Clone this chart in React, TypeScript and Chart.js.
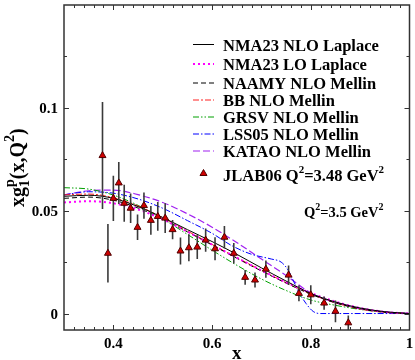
import React, { useEffect, useRef } from 'react';
import { Chart, registerables } from 'chart.js';

Chart.register(...registerables);

const FONT = "'Liberation Serif', 'Times New Roman', serif";

// ---- data ----
const X_GRID = [0.30, 0.35, 0.40, 0.45, 0.50, 0.55, 0.60, 0.65, 0.70, 0.75, 0.80, 0.85, 0.90, 0.95, 1.00];
const NMA23_NLO = [0.0570, 0.0575, 0.0560, 0.0520, 0.0467, 0.0408, 0.0350, 0.0288, 0.0222, 0.0158, 0.0098, 0.0056, 0.0027, 0.0009, 0];
const NMA23_LO = [0.0540, 0.0546, 0.0536, 0.0506, 0.0458, 0.0398, 0.0335, 0.0272, 0.0210, 0.0152, 0.0100, 0.0058, 0.0027, 0.0008, 0];
const NAAMY = [0.0560, 0.0566, 0.0551, 0.0513, 0.0459, 0.0397, 0.0333, 0.0269, 0.0207, 0.0148, 0.0094, 0.0052, 0.0023, 0.0006, 0];
const BB = [0.0577, 0.0581, 0.0563, 0.0523, 0.0466, 0.0401, 0.0336, 0.0272, 0.0210, 0.0150, 0.0095, 0.0052, 0.0022, 0.0006, 0];
const GRSV = [0.0612, 0.0605, 0.0576, 0.0526, 0.0460, 0.0385, 0.0308, 0.0235, 0.0168, 0.0112, 0.0066, 0.0040, 0.0020, 0.0006, 0];
const KATAO = [0.0577, 0.0597, 0.0600, 0.0578, 0.0540, 0.0485, 0.0420, 0.0345, 0.0265, 0.0185, 0.0100, 0.0053, 0.0024, 0.0008, 0];
const LSS05_X = [0.30, 0.35, 0.40, 0.45, 0.50, 0.55, 0.60, 0.64, 0.68, 0.72, 0.74, 0.755, 0.765, 0.775, 0.79, 0.805, 0.82, 0.90, 1.00];
const LSS05 = [0.0577, 0.0592, 0.0585, 0.0557, 0.0512, 0.0452, 0.0390, 0.0330, 0.0288, 0.0265, 0.0250, 0.0208, 0.0158, 0.0108, 0.0050, 0.0010, 0, 0, 0];

const JLAB_X = [0.378, 0.389, 0.400, 0.411, 0.422, 0.435, 0.449, 0.462, 0.476, 0.490, 0.505, 0.520, 0.536, 0.553, 0.570, 0.587, 0.606, 0.625, 0.644, 0.667, 0.687, 0.709, 0.755, 0.776, 0.800, 0.827, 0.850, 0.876];
const JLAB_Y = [0.0768, 0.0293, 0.0560, 0.0635, 0.0536, 0.0512, 0.0419, 0.0525, 0.0453, 0.0472, 0.0464, 0.0408, 0.0304, 0.0320, 0.0323, 0.0357, 0.0315, 0.0371, 0.0293, 0.0176, 0.0163, 0.0216, 0.0187, 0.0098, 0.0091, 0.0051, 0.0011, -0.0045];
const JLAB_ERR = [0.0260, 0.0142, 0.0110, 0.0102, 0.0090, 0.0072, 0.0062, 0.0064, 0.0070, 0.0070, 0.0072, 0.0047, 0.0066, 0.0066, 0.0058, 0.0056, 0.0056, 0.0055, 0.0050, 0.0036, 0.0036, 0.0042, 0.0046, 0.0038, 0.0046, 0.0032, 0.0053, 0.0036];

const SERIES_LABELS = ['NMA23 NLO Laplace', 'NMA23 LO Laplace', 'NAAMY NLO Mellin', 'BB NLO Mellin', 'GRSV NLO Mellin', 'LSS05 NLO Mellin', 'KATAO NLO Mellin'];
const X_TICKS = [0.4, 0.6, 0.8, 1.0];
const X_TICK_LABELS = ['0.4', '0.6', '0.8', '1'];
const Y_TICKS = [0, 0.05, 0.1];
const Y_TICK_LABELS = ['0', '0.05', '0.1'];

// ---- styles ----
const STYLES = [
  { color: '#000000', dash: [], width: 1 },
  { color: '#ff00ff', dash: [2, 3], width: 2 },
  { color: '#000000', dash: [5, 3], width: 1 },
  { color: '#ff2020', dash: [6, 2, 2, 2], width: 1 },
  { color: '#00a000', dash: [6, 2, 1.5, 2, 1.5, 2], width: 1 },
  { color: '#0000ff', dash: [6, 2, 1.5, 2], width: 1 },
  { color: '#a020f0', dash: [7, 3], width: 1.2 },
];
const SERIES_DATA = [
  [X_GRID, NMA23_NLO], [X_GRID, NMA23_LO], [X_GRID, NAAMY], [X_GRID, BB],
  [X_GRID, GRSV], [LSS05_X, LSS05], [X_GRID, KATAO],
];
const LEGEND_ROWS = [44.5, 64, 83, 100, 117, 134, 151];

type Part = { t: string; size: number; dy?: number; stackWith?: Part };

function drawRich(ctx: CanvasRenderingContext2D, parts: Part[], x: number, y: number) {
  let cx = x;
  for (const p of parts) {
    ctx.font = `bold ${p.size}px ${FONT}`;
    const w = ctx.measureText(p.t).width;
    ctx.fillText(p.t, cx, y + (p.dy || 0));
    let adv = w;
    if (p.stackWith) {
      const s = p.stackWith;
      ctx.font = `bold ${s.size}px ${FONT}`;
      const w2 = ctx.measureText(s.t).width;
      ctx.fillText(s.t, cx, y + (s.dy || 0));
      adv = Math.max(w, w2);
    }
    cx += adv;
  }
  return cx;
}

const decorPlugin = {
  id: 'decor',
  beforeDatasetDraw(chart: any, args: any) {
    if (args.index !== 7) return;
    const { ctx, chartArea: a, scales } = chart;
    const xs = scales.x, ys = scales.y;
    ctx.save();
    ctx.beginPath();
    ctx.rect(a.left, a.top, a.right - a.left, a.bottom - a.top);
    ctx.clip();
    ctx.strokeStyle = '#3a3a3a';
    ctx.lineWidth = 1.6;
    for (let i = 0; i < JLAB_X.length; i++) {
      const px = xs.getPixelForValue(JLAB_X[i]);
      ctx.beginPath();
      ctx.moveTo(px, ys.getPixelForValue(JLAB_Y[i] + JLAB_ERR[i]));
      ctx.lineTo(px, ys.getPixelForValue(JLAB_Y[i] - JLAB_ERR[i]));
      ctx.stroke();
    }
    ctx.restore();
  },
  afterDraw(chart: any) {
    const { ctx, chartArea: a, scales } = chart;
    const xs = scales.x, ys = scales.y;
    ctx.save();
    // frame
    ctx.strokeStyle = '#333';
    ctx.lineWidth = 1.5;
    ctx.strokeRect(a.left, a.top, a.right - a.left, a.bottom - a.top);
    // ticks
    ctx.lineWidth = 1;
    ctx.strokeStyle = '#333';
    ctx.beginPath();
    for (let k = 1; k < 35; k++) {
      const v = 0.3 + k * 0.02;
      const major = Math.abs((v * 10) - Math.round(v * 10)) < 1e-6 && Math.round(v * 10) % 2 === 0;
      const len = major ? 5 : 3;
      const px = Math.round(xs.getPixelForValue(v)) + 0.5;
      ctx.moveTo(px, a.bottom); ctx.lineTo(px, a.bottom - len);
      ctx.moveTo(px, a.top); ctx.lineTo(px, a.top + len);
    }
    for (let k = 0; k <= 5; k++) {
      const v = k * 0.025;
      const len = k % 2 === 0 ? 5 : 3;
      const py = Math.round(ys.getPixelForValue(v)) + 0.5;
      ctx.moveTo(a.left, py); ctx.lineTo(a.left + len, py);
      ctx.moveTo(a.right, py); ctx.lineTo(a.right - len, py);
    }
    ctx.stroke();

    ctx.fillStyle = '#000';
    // tick labels
    ctx.font = `bold 15px ${FONT}`;
    ctx.textAlign = 'right';
    ctx.textBaseline = 'alphabetic';
    Y_TICKS.forEach((v, i) => {
      ctx.fillText(Y_TICK_LABELS[i], a.left - 6, ys.getPixelForValue(v) + 5);
    });
    ctx.textAlign = 'center';
    X_TICKS.forEach((v, i) => {
      ctx.fillText(X_TICK_LABELS[i], xs.getPixelForValue(v), a.bottom + 17.5);
    });
    // x title
    ctx.font = `bold 19px ${FONT}`;
    ctx.fillText('x', (a.left + a.right) / 2, a.bottom + 28.5);

    // y title
    ctx.textAlign = 'left';
    ctx.save();
    ctx.translate(24, 207);
    ctx.rotate(-Math.PI / 2);
    drawRich(ctx, [
      { t: 'xg', size: 20 },
      { t: '1', size: 14, dy: 5, stackWith: { t: 'p', size: 14, dy: -10 } },
      { t: '(x,Q', size: 20 },
      { t: '2', size: 14, dy: -10 },
      { t: ')', size: 20 },
    ], 0, 0);
    ctx.restore();

    // legend
    ctx.textAlign = 'left';
    SERIES_LABELS.forEach((lab, i) => {
      const st = STYLES[i];
      const y = LEGEND_ROWS[i];
      ctx.save();
      ctx.strokeStyle = st.color;
      ctx.lineWidth = st.width;
      ctx.setLineDash(st.dash);
      ctx.beginPath();
      ctx.moveTo(193, y);
      ctx.lineTo(214, y);
      ctx.stroke();
      ctx.restore();
      ctx.font = `bold 16.5px ${FONT}`;
      ctx.fillText(lab, 223, y + 6);
    });
    // JLAB legend marker
    ctx.save();
    ctx.fillStyle = '#d00000';
    ctx.strokeStyle = '#500000';
    ctx.lineWidth = 1;
    ctx.beginPath();
    ctx.moveTo(203.5, 169.5); ctx.lineTo(207, 175.5); ctx.lineTo(200, 175.5); ctx.closePath();
    ctx.fill(); ctx.stroke();
    ctx.restore();
    drawRich(ctx, [
      { t: 'JLAB06 Q', size: 16.5 },
      { t: '2', size: 11, dy: -8 },
      { t: '=3.48 GeV', size: 16.5 },
      { t: '2', size: 11, dy: -8 },
    ], 223, 181);

    // Q^2 annotation
    drawRich(ctx, [
      { t: 'Q', size: 14.5 },
      { t: '2', size: 10, dy: -7 },
      { t: '=3.5 GeV', size: 14.5 },
      { t: '2', size: 10, dy: -7 },
    ], 304, 217);
    ctx.restore();
  },
};

export default function App() {
  const ref = useRef<HTMLCanvasElement | null>(null);
  useEffect(() => {
    if (!ref.current) return;
    const datasets: any[] = SERIES_DATA.map(([xsArr, ysArr], i) => ({
      type: 'line',
      label: SERIES_LABELS[i],
      data: xsArr.map((x, j) => ({ x, y: ysArr[j] })),
      borderColor: STYLES[i].color,
      borderWidth: STYLES[i].width,
      borderDash: STYLES[i].dash,
      pointRadius: 0,
      fill: false,
      cubicInterpolationMode: 'monotone',
      order: 1,
    }));
    datasets.push({
      type: 'scatter',
      label: 'JLAB06',
      data: JLAB_X.map((x, j) => ({ x, y: JLAB_Y[j] })),
      pointStyle: 'triangle',
      pointRadius: 4,
      backgroundColor: '#d00000',
      borderColor: '#500000',
      borderWidth: 1,
      order: -1,
    });
    const chart = new Chart(ref.current, {
      type: 'line',
      data: { datasets },
      options: {
        responsive: false,
        animation: false,
        layout: { padding: { left: 64, right: 5.5, top: 1, bottom: 30 } },
        scales: {
          x: { type: 'linear', min: 0.3, max: 1, display: false },
          y: { type: 'linear', min: -0.008, max: 0.15, display: false },
        },
        plugins: { legend: { display: false }, tooltip: { enabled: false } },
      },
      plugins: [decorPlugin],
    } as any);
    return () => chart.destroy();
  }, []);
  return (
    <div style={{ position: 'absolute', left: 0, top: 0, width: 415, height: 360, background: '#fff' }}>
      <canvas ref={ref} width={415} height={360} style={{ display: 'block' }} />
    </div>
  );
}
